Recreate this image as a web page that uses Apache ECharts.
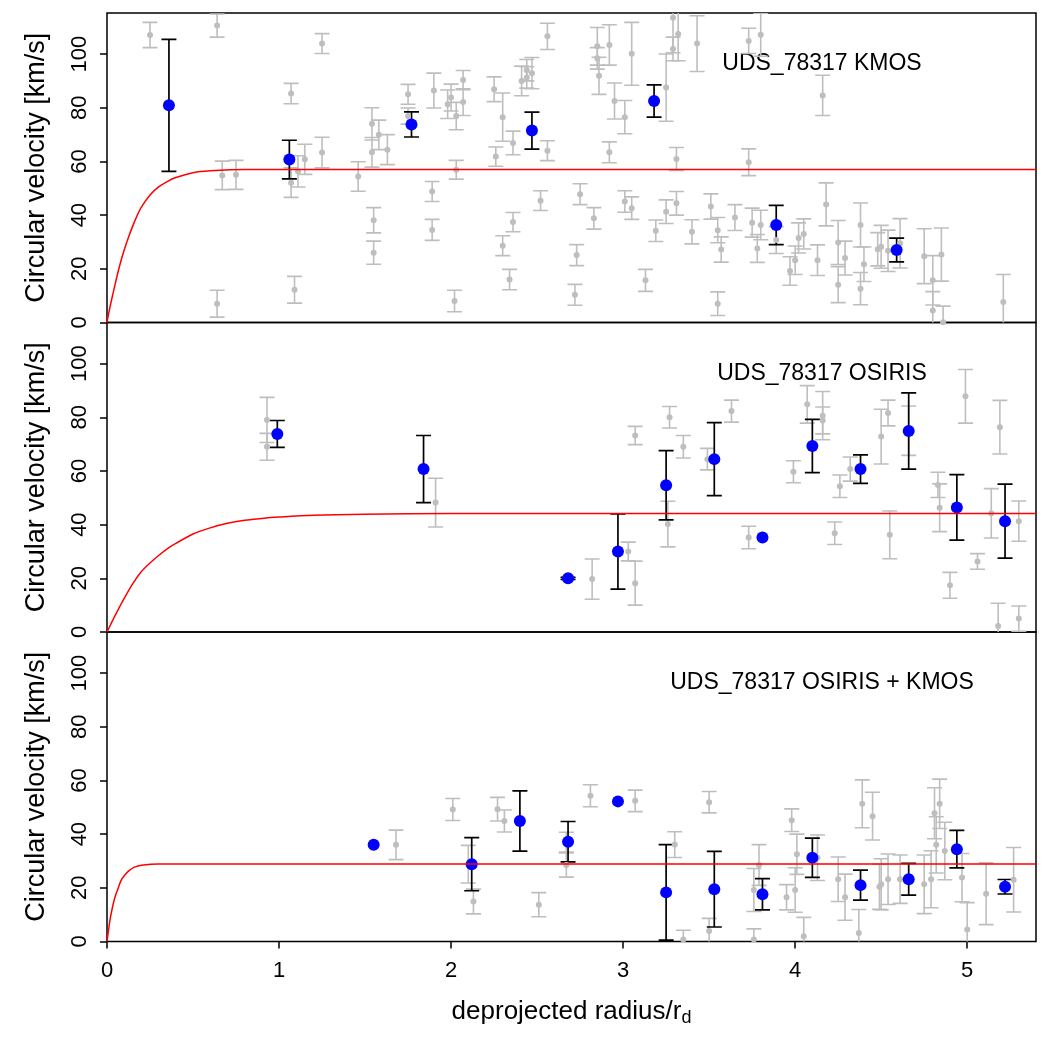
<!DOCTYPE html>
<html>
<head>
<meta charset="utf-8">
<script src="https://cdn.jsdelivr.net/npm/echarts@6/dist/echarts.min.js"></script>
<style>
  html, body { margin: 0; padding: 0; background: #fff; }
  #chart { width: 1050px; height: 1050px; }
</style>
</head>
<body>
<div id="chart"></div>
<script>
// [radius/rd, velocity, error]
const kmosGray = [
  [0.25,107.1,4.7],[0.64,110.6,4.3],[1.25,103.9,3.7],[1.07,85.3,3.8],[0.67,54.8,5.3],
  [0.75,55.0,5.4],[1.07,52.1,5.5],[1.11,56.3,5.8],[1.15,60.8,5.6],[1.25,63.3,5.7],
  [1.09,12.2,5],[0.64,7.0,5],[1.46,54.4,5.5],[1.54,74.0,6],[1.58,69.9,5.5],
  [1.54,63.4,5.5],[1.63,64.4,5.6],[1.55,38.1,4.7],[1.55,26.0,4.3],[1.75,85.0,3.7],
  [1.75,76.9,3],[1.90,86.4,6.5],[1.89,48.8,3.7],[1.89,34.5,3.9],[1.98,81.3,5.3],
  [2.00,83.8,5],[2.03,76.9,5.1],[2.07,90.3,3.6],[2.07,82.1,5],[2.03,56.9,3.5],
  [2.02,8.0,4],[2.25,86.9,4.6],[2.30,76.5,9],[2.36,66.9,4.4],[2.26,61.8,3.6],
  [2.36,37.4,3.6],[2.30,28.6,3.7],[2.34,16.0,3.8],[2.41,90.0,5.5],[2.44,94.0,4],
  [2.44,91.3,4],[2.47,92.9,5.8],[2.56,106.6,4.9],[2.56,64.0,3.7],[2.52,45.4,3.7],
  [2.85,102.9,7],[2.85,98.4,4],[2.86,91.9,6.9],[2.92,103.4,7.5],[2.95,82.5,6.7],
  [3.01,76.5,6.2],[3.05,100.1,11.7],[2.92,63.4,3.9],[3.29,113.5,13],[3.29,101.9,4.4],
  [3.25,87.5,12.5],[3.32,107.5,10],[3.43,103.9,10.4],[3.31,60.9,4.3],[3.73,59.7,5],
  [3.73,104.9,4.7],[3.80,107.2,8],[4.16,84.6,7.5],[2.75,47.8,3.9],[2.83,38.8,4],
  [2.73,25.1,3.9],[2.72,10.3,3.9],[3.01,45.1,4],[3.05,42.6,4.2],[3.19,34.2,4],
  [3.25,41.3,4.4],[3.31,44.4,4.4],[3.13,15.7,4.1],[3.40,33.8,4.5],[3.51,43.2,4.7],
  [3.55,34.4,4.7],[3.57,27.2,4.7],[3.55,7.0,4.4],[3.65,39.1,4.8],[3.75,37.2,5.4],
  [3.80,36.3,5.5],[3.78,27.6,5.2],[3.89,30.7,5],[3.97,19.2,5.3],[4.00,23.2,5.3],
  [4.02,31.5,5.6],[4.05,33.0,5.6],[4.13,23.2,5.7],[4.18,44.0,8],[4.25,29.8,8.2],
  [4.25,14.1,6.7],[4.29,24.0,6.3],[4.38,36.3,8.2],[4.38,12.6,6],[4.40,21.7,6.4],
  [4.48,27.3,6.2],[4.50,28.2,8],[4.54,26.7,7.7],[4.61,29.5,9.2],[4.75,24.7,10.2],
  [4.80,15.7,9.2],[4.85,25.3,9.9],[4.80,4.5,7],[4.86,0.1,6],[5.21,7.6,10.3]
];
const kmosBlue = [
  [0.36,80.9,24.6],[1.06,60.7,7.2],[1.77,73.8,4.7],[2.47,71.5,6.9],
  [3.18,82.5,6],[3.89,36.3,7.3],[4.59,27.0,4.4]
];
const kmosModel = [
  [0,0],[0.01,3.5],[0.025,8],[0.05,15],[0.075,21.5],[0.1,27],[0.125,31.8],[0.15,36],
  [0.175,39.8],[0.2,43],[0.25,47.5],[0.3,50.5],[0.35,52.5],[0.4,54],[0.5,55.8],
  [0.6,56.5],[0.8,57],[1.2,57],[5.4,57]
];

const osirisGray = [
  [0.93,79.0,8.4],[0.93,69.0,5],[1.91,48.2,9.1],
  [2.82,19.7,7.5],[3.03,30.0,3.5],[3.07,18.2,8.2],[3.07,73.2,3.4],[3.27,80.0,4],
  [3.26,40.2,8.5],[3.35,69.0,4.2],[3.49,64.4,4],[3.63,82.3,4.1],[3.73,35.2,4.2],
  [3.99,59.7,4.1],[4.07,84.8,7],[4.16,80.6,9],[4.16,78.8,5],[4.23,36.8,4.2],
  [4.26,54.3,4.2],[4.32,60.7,4.5],[4.50,72.8,10.2],[4.54,81.6,4.8],[4.55,36.2,8.9],
  [4.66,75.0,9.2],[4.83,54.8,4.7],[4.84,46.3,8.9],[4.90,17.4,4.8],[4.99,87.8,10],
  [5.06,26.3,2.9],[5.14,44.2,9.2],[5.19,76.3,10],[5.30,41.3,7.5],[5.18,2.2,8.5],
  [5.30,5.0,4.7]
];
const osirisBlue = [
  [0.99,73.8,5],[1.84,60.7,12.5],[2.68,20.0,0.4],[2.97,30.0,14],[3.25,54.7,12.9],
  [3.53,64.4,13.6],[3.81,35.2,0],[4.10,69.3,9.9],[4.38,60.7,5.3],[4.66,74.9,14.2],
  [4.94,46.4,12.2],[5.22,41.3,13.8]
];
const osirisModel = [
  [0,0],[0.025,3.3],[0.05,6.5],[0.1,12.5],[0.15,18],[0.2,22.5],[0.25,25.7],[0.3,28.5],
  [0.35,31],[0.4,33],[0.5,36.5],[0.6,38.8],[0.7,40.5],[0.8,41.6],[0.9,42.3],[1.0,42.8],
  [1.2,43.5],[1.5,43.9],[2,44.1],[5.4,44.1]
];

const combGray = [
  [1.68,36.0,5.5],[2.01,49.2,4.1],[2.27,49.3,4.4],[2.31,44.9,4.1],[2.10,28.8,7],
  [2.13,14.9,4.6],[2.51,13.7,4.5],[2.67,37.0,3.7],[2.67,28.5,4.5],
  [2.81,54.3,4.1],[3.07,52.4,4],[3.50,51.9,4],[3.30,36.1,4.8],[3.35,0.7,3.5],
  [3.50,3.9,4.7],[3.76,0.7,4],[3.76,19.2,8],[3.79,28.5,7.6],[3.95,16.5,4.7],
  [3.98,45.2,4.2],[4.01,32.5,7.5],[4.00,19.2,8.3],[4.05,2.0,7],[4.13,31.2,8.5],
  [4.25,23.2,8.3],[4.29,16.5,8.6],[4.37,3.2,8.7],[4.39,51.3,8.9],[4.45,46.7,8.9],
  [4.49,20.4,8.4],[4.50,21.3,9.5],[4.54,23.2,9.4],[4.61,23.2,9],[4.75,21.3,10.9],
  [4.79,23.2,10.6],[4.81,47.8,9.5],[4.82,36.0,10.5],[4.84,51.3,9.2],[4.87,33.7,10.7],
  [4.97,23.8,9],[5.00,4.5,10],[5.11,17.8,11.5],[5.27,23.0,12]
];
const combBlue = [
  [1.55,36.0,0],[2.12,28.8,9.9],[2.40,44.9,11.2],[2.68,37.2,7.5],[2.97,52.2,0],
  [3.25,18.3,17.8],[3.53,19.5,14.1],[3.81,17.6,5.8],[4.10,31.2,7.3],[4.38,21.0,5.6],
  [4.66,23.2,5.9],[4.94,34.4,7],[5.22,20.4,2.7]
];
const combModel = [
  [0,0],[0.01,4.8],[0.02,9],[0.03,12.2],[0.04,15],[0.05,17.2],[0.06,19],[0.08,22.5],
  [0.1,24.5],[0.13,26.5],[0.16,27.7],[0.2,28.4],[0.3,28.9],[5.4,28.9]
];

const xTicks = [0, 1, 2, 3, 4, 5];
const yTicks = [0, 20, 40, 60, 80, 100];
const panelTitles = ['UDS_78317 KMOS', 'UDS_78317 OSIRIS', 'UDS_78317 OSIRIS + KMOS'];

const FONT = '"Liberation Sans", Arial, Helvetica, sans-serif';
const panels = [
  { gray: kmosGray, blue: kmosBlue, model: kmosModel },
  { gray: osirisGray, blue: osirisBlue, model: osirisModel },
  { gray: combGray, blue: combBlue, model: combModel }
];
const tops = [13, 322.5, 632];
const H = 309.5;

function errBars(color, width) {
  return function (params, api) {
    const x = api.value(0), y = api.value(1), e = api.value(2);
    if (!e) return null;
    const hi = api.coord([x, y + e]);
    const lo = api.coord([x, y - e]);
    const h = 7.5;
    const style = { stroke: color, lineWidth: width };
    return {
      type: 'group',
      children: [
        { type: 'line', shape: { x1: hi[0], y1: hi[1], x2: lo[0], y2: lo[1] }, style },
        { type: 'line', shape: { x1: hi[0] - h, y1: hi[1], x2: hi[0] + h, y2: hi[1] }, style },
        { type: 'line', shape: { x1: lo[0] - h, y1: lo[1], x2: lo[0] + h, y2: lo[1] }, style }
      ]
    };
  };
}

const grid = [], xAxis = [], yAxis = [], series = [], graphic = [];
panels.forEach((p, i) => {
  grid.push({ left: 107, right: 14, top: tops[i], height: H, show: true,
    borderColor: '#000', borderWidth: 1.5, backgroundColor: 'transparent' });
  const last = i === panels.length - 1;
  xAxis.push({
    type: 'value', gridIndex: i, min: 0, max: 5.4,
    axisLine: { show: false }, splitLine: { show: false },
    axisTick: { show: last, length: 7, lineStyle: { color: '#000', width: 1.5 }, customValues: xTicks },
    axisLabel: { show: last, customValues: xTicks, color: '#000', fontSize: 22, fontFamily: FONT, margin: 18 },
    name: last ? 'deprojected radius/r{sub|d}' : '',
    nameLocation: 'middle', nameGap: 54,
    nameTextStyle: { color: '#000', fontSize: 26, fontFamily: FONT,
      rich: { sub: { fontSize: 18, fontFamily: FONT, color: '#000', padding: [14, 0, 0, 0] } } }
  });
  yAxis.push({
    type: 'value', gridIndex: i, min: 0, max: 115.3,
    axisLine: { show: false }, splitLine: { show: false },
    axisTick: { length: 7, lineStyle: { color: '#000', width: 1.5 }, customValues: yTicks },
    axisLabel: { customValues: yTicks, rotate: 90, align: 'center', verticalAlign: 'bottom',
      color: '#000', fontSize: 22, fontFamily: FONT, margin: 16 },
    name: 'Circular velocity [km/s]', nameLocation: 'middle', nameGap: 57,
    nameTextStyle: { color: '#000', fontSize: 27, fontFamily: FONT }
  });
  series.push(
    { type: 'custom', xAxisIndex: i, yAxisIndex: i, clip: true, renderItem: errBars('#bebebe', 1.6),
      encode: { x: 0, y: 1 }, data: p.gray, silent: true },
    { type: 'scatter', xAxisIndex: i, yAxisIndex: i, symbolSize: 6,
      itemStyle: { color: '#bebebe', opacity: 1 }, data: p.gray.map(d => [d[0], d[1]]) },
    { type: 'line', xAxisIndex: i, yAxisIndex: i, showSymbol: false, smooth: 0.3,
      lineStyle: { color: '#ff0000', width: 1.5 }, data: p.model },
    { type: 'custom', xAxisIndex: i, yAxisIndex: i, clip: true, renderItem: errBars('#000', 1.7),
      encode: { x: 0, y: 1 }, data: p.blue, silent: true },
    { type: 'scatter', xAxisIndex: i, yAxisIndex: i, symbolSize: 12,
      itemStyle: { color: '#0000ff', opacity: 1 }, data: p.blue.map(d => [d[0], d[1]]) }
  );
  graphic.push({ type: 'text', x: 822, y: tops[i] + 51,
    style: { text: panelTitles[i], fill: '#000', font: '23px ' + FONT, align: 'center', verticalAlign: 'middle' } });
});

const chart = echarts.init(document.getElementById('chart'));
chart.setOption({ animation: false, grid, xAxis, yAxis, series, graphic });
</script>
</body>
</html>
